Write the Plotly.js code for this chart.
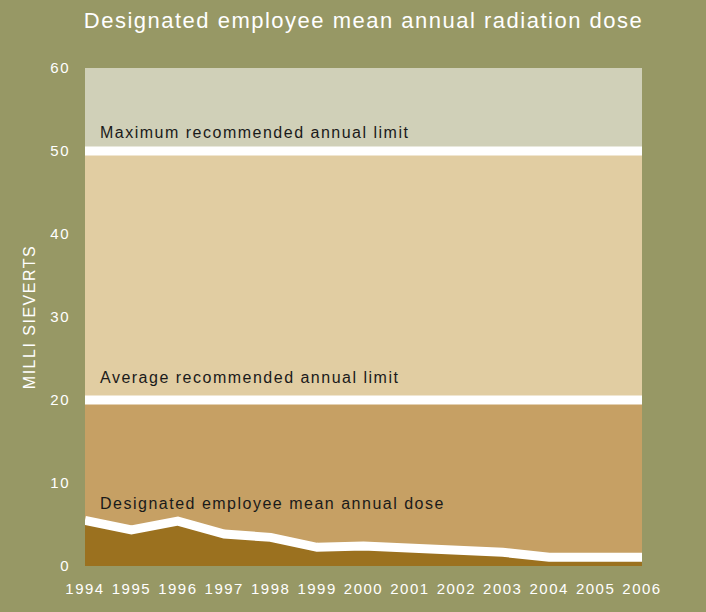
<!DOCTYPE html>
<html><head><meta charset="utf-8">
<script src="https://cdn.plot.ly/plotly-3.0.1.min.js"></script>
<style>
html,body{margin:0;padding:0;background:#979865;}
svg text{letter-spacing:1.5px;}
</style>
</head><body><div id="chart" style="width:706px;height:612px"></div>
<script>
const years = [1994,1995,1996,1997,1998,1999,2000,2001,2002,2003,2004,2005,2006];
const meanDose = [5.5,4.35,5.4,3.85,3.45,2.25,2.4,2.15,1.75,1.65,1.05,1.05,1.05];
const bandEdges = [0,20,50,60];
const bandColors = ['#c6a064','#e1cda2','#d0d0b8'];
const limitValues = [50,20];
const labelTexts = ['Maximum recommended annual limit','Average recommended annual limit','Designated employee mean annual dose'];
const labelValues = [52.2,22.7,7.5];
const yTicks = [0,10,20,30,40,50,60];

const x0 = years[0], x1 = years[years.length-1];
const traces = [];
traces.push({x:[x0,x1], y:[bandEdges[0],bandEdges[0]], mode:'lines', line:{width:0}, hoverinfo:'skip', showlegend:false});
for (let i=1;i<bandEdges.length;i++){
  traces.push({x:[x0,x1], y:[bandEdges[i],bandEdges[i]], mode:'lines', line:{width:0}, fill:'tonexty', fillcolor:bandColors[i-1], hoverinfo:'skip', showlegend:false});
}
traces.push({x:years, y:meanDose, mode:'lines', line:{width:0}, fill:'tozeroy', fillcolor:'#9b711f', hoverinfo:'skip', showlegend:false});
traces.push({x:years, y:meanDose, mode:'lines', line:{width:9,color:'#ffffff'}, hoverinfo:'skip', showlegend:false});
limitValues.forEach(v=>{
  traces.push({x:[x0,x1], y:[v,v], mode:'lines', line:{width:9,color:'#ffffff'}, hoverinfo:'skip', showlegend:false});
});

const annotations = labelTexts.map((t,i)=>({
  x:x0, y:labelValues[i], xref:'x', yref:'y', xanchor:'left', yanchor:'middle', xshift:13,
  text:t, showarrow:false, font:{family:'Liberation Sans, Arial, sans-serif', size:16, color:'#1a1a1a'}
}));

const layout = {
  width:706, height:612,
  paper_bgcolor:'#979865', plot_bgcolor:'#979865',
  margin:{l:85, r:64, t:68, b:46},
  font:{family:'Liberation Sans, Arial, sans-serif', color:'#ffffff'},
  title:{text:'Designated employee mean annual radiation dose', font:{size:22, color:'#ffffff'}, x:0.5, xref:'paper', y:1-20/612, yref:'container', yanchor:'middle'},
  xaxis:{range:[x0,x1], tickvals:years, ticktext:years.map(String), showgrid:false, zeroline:false, showline:false, ticks:'', ticklabelstandoff:12, tickfont:{size:15,color:'#ffffff'}, fixedrange:true},
  yaxis:{range:[0,60], tickvals:yTicks, showgrid:false, zeroline:false, showline:false, ticks:'', ticklabelstandoff:14, tickfont:{size:15,color:'#ffffff'},
    title:{text:'MILLI SIEVERTS', font:{size:16,color:'#ffffff'}, standoff:10}, fixedrange:true},
  annotations:annotations,
  showlegend:false
};
Plotly.newPlot('chart', traces, layout, {displayModeBar:false, staticPlot:true});
</script>
</body></html>
